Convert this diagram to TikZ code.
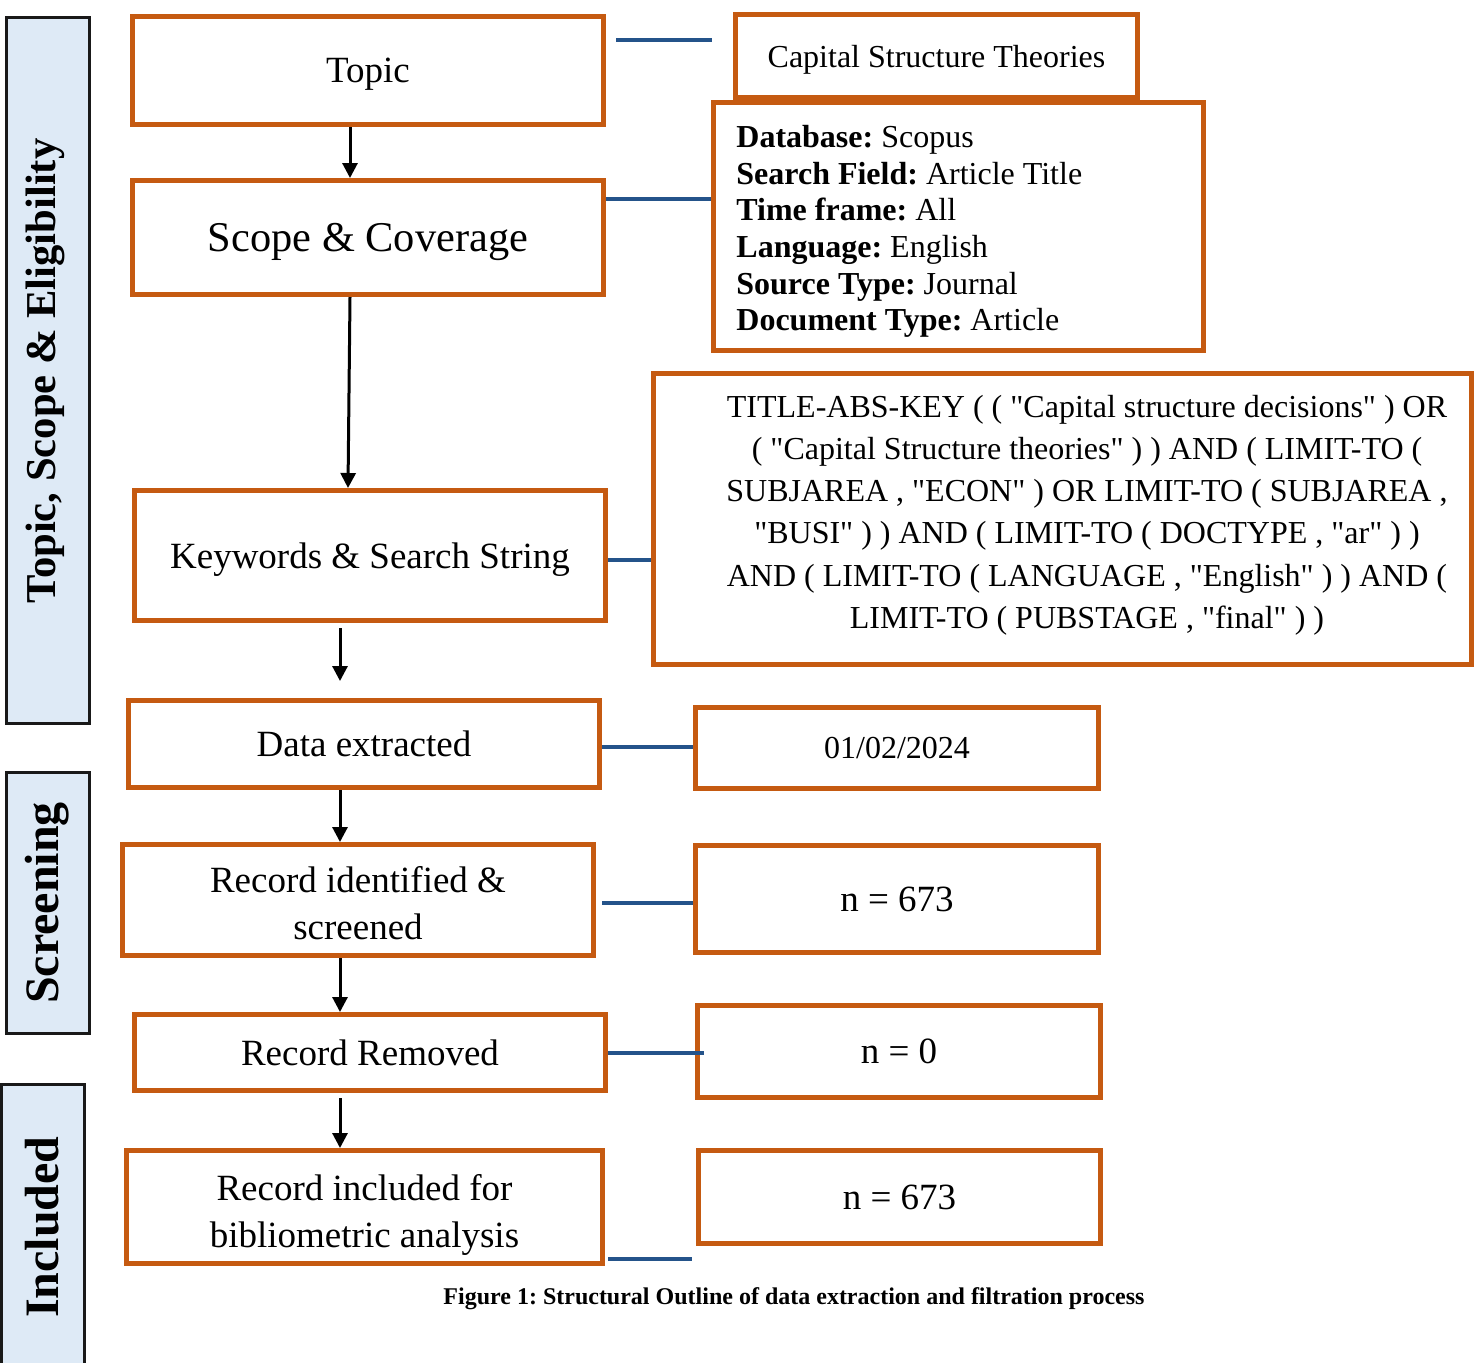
\documentclass[tikz,border=0pt]{standalone}
\usepackage{fontspec}
\setmainfont{Liberation Serif}
\usetikzlibrary{arrows.meta,calc}
\definecolor{borange}{HTML}{C55A11}
\definecolor{cblue}{HTML}{24538A}
\definecolor{pfill}{HTML}{DEEAF6}
\newcommand{\dq}{\textquotedbl{}}
\tikzset{
  obox/.style={draw=borange, line width=2.5pt, fill=white, rectangle, inner sep=0pt, align=center, text depth=0pt},
  mainf/.style={font=\fontsize{18.5}{23.5}\selectfont},
  rightf/.style={font=\fontsize{16}{18.35}\selectfont},
  panel/.style={draw=black!90, line width=1.5pt, fill=pfill},
  ptext/.style={rotate=90, font=\bfseries\fontsize{24}{28}\selectfont},
  conn/.style={draw=cblue, line width=1.6pt},
  flow/.style={draw=black, line width=1.5pt, -{Triangle[length=7.5pt,width=7.5pt]}}
}
\begin{document}
\frenchspacing
\begin{tikzpicture}[x=0.5pt,y=-0.5pt]
\useasboundingbox (0,0) rectangle (1482,1362);
% side panels
\draw[panel] (6,17) rectangle (89,723);
\draw[panel] (6,772) rectangle (89,1033);
\draw[panel] (1,1084) rectangle (84,1380);
\node[ptext, font=\bfseries\fontsize{21.3}{25}\selectfont] (p1) at (45,371) {Topic, Scope \& Eligibility};
\node[ptext] (p2) at (47,903) {Screening};
\node[ptext] (p3) at (42,1227) {Included};
% main column
\node[obox, mainf, minimum width=235.5pt, minimum height=54pt] (topic) at (368,70.5) {Topic};
\node[obox, font=\fontsize{21.2}{25}\selectfont, minimum width=235.5pt, minimum height=57pt] (scope) at (368,237.5) {Scope \& Coverage};
\node[obox, mainf, minimum width=235.5pt, minimum height=65pt] (kw) at (370,555.5) {Keywords \& Search String};
\node[obox, mainf, minimum width=235.5pt, minimum height=43.5pt] (data) at (364,744) {Data extracted};
\node[obox, mainf, minimum width=235.5pt, minimum height=55.5pt] (recid) at (358,900) {\rule{0pt}{15.5pt}Record identified \&\\screened};
\node[obox, mainf, minimum width=238pt, minimum height=56.5pt] (recinc) at (364.5,1207) {\rule{0pt}{16.5pt}Record included for\\bibliometric analysis};
\node[obox, mainf, minimum width=235.5pt, minimum height=38pt] (recrem) at (370,1052.5) {Record Removed};
% right column
\node[obox, rightf, minimum width=201pt, minimum height=41.5pt] (cst) at (936.5,56) {Capital Structure Theories};
\node[obox, minimum width=245pt, minimum height=124pt] (db) at (958.5,226.5) {};
\node[rightf, align=left, anchor=west, inner sep=0pt] (dbtext) at (736,231.5)
 {\textbf{Database:} Scopus\\\textbf{Search Field:} Article Title\\\textbf{Time frame:} All\\\textbf{Language:} English\\\textbf{Source Type:} Journal\\\textbf{Document Type:} Article};
\node[obox, minimum width=409pt, minimum height=145.5pt] (str) at (1062.5,519) {};
\node[align=center, font=\fontsize{16}{21.1}\selectfont] (strtext) at (1087,515)
 {TITLE-ABS-KEY ( ( \dq Capital structure decisions\dq\ ) OR\\
 ( \dq Capital Structure theories\dq\ ) ) AND ( LIMIT-TO (\\
 SUBJAREA , \dq ECON\dq\ ) OR LIMIT-TO ( SUBJAREA ,\\
 \dq BUSI\dq\ ) ) AND ( LIMIT-TO ( DOCTYPE , \dq ar\dq\ ) )\\
 AND ( LIMIT-TO ( LANGUAGE , \dq English\dq\ ) ) AND (\\
 LIMIT-TO ( PUBSTAGE , \dq final\dq\ ) )};
\node[obox, rightf, minimum width=201.5pt, minimum height=40.5pt] (date) at (897,748) {01/02/2024};
\node[obox, mainf, minimum width=201.5pt, minimum height=53.5pt] (n1) at (897,899) {n = 673};
\node[obox, mainf, minimum width=201.5pt, minimum height=46pt] (n0) at (899,1051.5) {n = 0};
\node[obox, mainf, minimum width=201pt, minimum height=46.5pt] (n2) at (899.5,1197) {n = 673};
% caption
\node[font=\bfseries\fontsize{12}{14}\selectfont] (caption) at (794,1299) {Figure 1: Structural Outline of data extraction and filtration process};
% blue connectors
\coordinate (c1a) at (616,40);
\coordinate (c1b) at (712,40);
\coordinate (c7a) at (608,1259);
\coordinate (c7b) at (692,1259);
\draw[conn] (c1a) -- (c1b);
\draw[conn] (scope.east |- 0,199) -- (db.west |- 0,199);
\draw[conn] (kw.east |- 0,560) -- (str.west |- 0,560);
\draw[conn] (data.east |- 0,747) -- (date.west |- 0,747);
\draw[conn] (602,903) coordinate (c5a) -- (n1.west |- 0,903);
\draw[conn] (recrem.east |- 0,1053) -- ([xshift=4.5pt]n0.west |- 0,1053);
\draw[conn] (c7a) -- (c7b);
% flow arrows
\coordinate (a3a) at (340,628);
\coordinate (a3b) at (340,681);
\coordinate (a6a) at (340,1098);
\draw[flow] (topic.south -| 350,0) -- (scope.north -| 350,0);
\draw[flow] (scope.south -| 350,0) -- (kw.north -| 348,0);
\draw[flow] (a3a) -- (a3b);
\draw[flow] (data.south -| 340,0) -- (recid.north -| 340,0);
\draw[flow] (recid.south -| 340,0) -- (recrem.north -| 340,0);
\draw[flow] (a6a) -- (recinc.north -| 340,0);
\end{tikzpicture}
\end{document}
